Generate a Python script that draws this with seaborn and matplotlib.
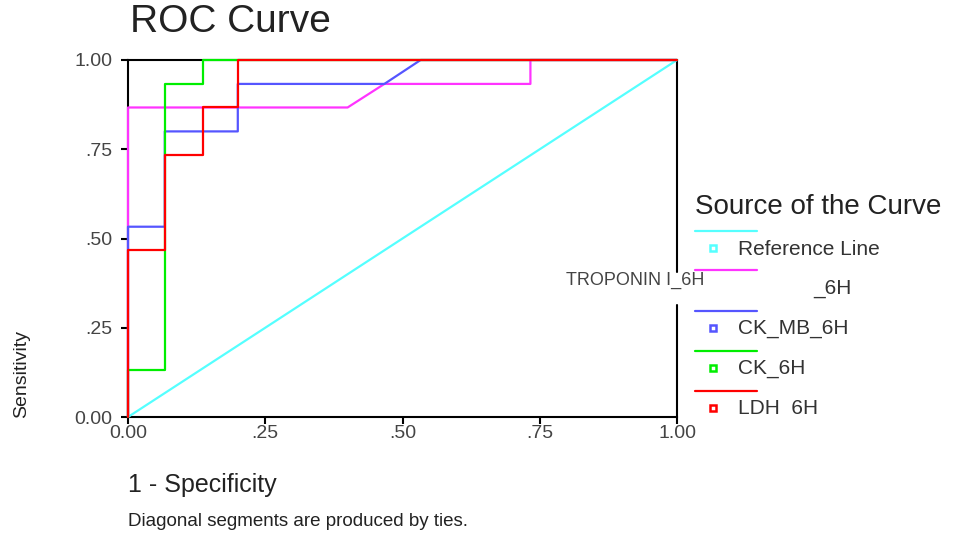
import numpy as np
import pandas as pd
import seaborn as sns
import matplotlib.pyplot as plt
from matplotlib.lines import Line2D

# ROC points (1 - specificity, sensitivity)
ref_fpr = [0.0, 1.0]
ref_tpr = [0.0, 1.0]
trop_fpr = [0.0, 0.0, 0.4, 0.467, 0.733, 0.733, 1.0]
trop_tpr = [0.0, 0.867, 0.867, 0.933, 0.933, 1.0, 1.0]
ckmb_fpr = [0.0, 0.0, 0.067, 0.067, 0.2, 0.2, 0.467, 0.533, 1.0]
ckmb_tpr = [0.0, 0.533, 0.533, 0.8, 0.8, 0.933, 0.933, 1.0, 1.0]
ck_fpr = [0.0, 0.0, 0.067, 0.067, 0.136, 0.136, 1.0]
ck_tpr = [0.0, 0.133, 0.133, 0.933, 0.933, 1.0, 1.0]
ldh_fpr = [0.0, 0.0, 0.067, 0.067, 0.136, 0.136, 0.2, 0.2, 1.0]
ldh_tpr = [0.0, 0.467, 0.467, 0.733, 0.733, 0.867, 0.867, 1.0, 1.0]

curve_names = ["Reference Line", "TROPONIN I_6H", "CK_MB_6H", "CK_6H", "LDH  6H"]
curve_colors = ["#55ffff", "#ff33ff", "#5555ff", "#00ee00", "#ff0000"]
tick_vals = [0.0, 0.25, 0.5, 0.75, 1.0]
x_tick_labels = ["0.00", ".25", ".50", ".75", "1.00"]
y_tick_labels = ["0.00", ".25", ".50", ".75", "1.00"]

curves = [(ref_fpr, ref_tpr), (trop_fpr, trop_tpr), (ckmb_fpr, ckmb_tpr),
          (ck_fpr, ck_tpr), (ldh_fpr, ldh_tpr)]
rows = []
for name, (fx, ty) in zip(curve_names, curves):
    for a, b in zip(fx, ty):
        rows.append((name, a, b))
df = pd.DataFrame(rows, columns=["curve", "fpr", "tpr"])

sns.set_style("white")
plt.rcParams['font.family'] = ['Liberation Sans', 'DejaVu Sans']

W, H = 971, 533
fig = plt.figure(figsize=(W / 100, H / 100), dpi=100)


def px(x, y):
    return x / W, 1 - y / H


ax = fig.add_axes([128 / W, 1 - 417 / H, (677 - 128) / W, (417 - 60) / H])
sns.lineplot(data=df, x="fpr", y="tpr", hue="curve", hue_order=curve_names,
             palette=curve_colors, sort=False, estimator=None, legend=False,
             linewidth=1.6, ax=ax, clip_on=False, zorder=3)

ax.set_xlim(0, 1)
ax.set_ylim(0, 1)
ax.set_xticks(tick_vals)
ax.set_xticklabels(x_tick_labels, fontsize=14, color="#444444")
ax.set_yticks(tick_vals)
ax.set_yticklabels(y_tick_labels, fontsize=14, color="#444444")
ax.tick_params(axis="both", direction="out", length=5, width=1.5, color="black",
               left=True, bottom=True)
ax.tick_params(axis="y", pad=6)
ax.tick_params(axis="x", pad=1)
ax.set_xlabel("")
ax.set_ylabel("")
for side in ["left", "bottom", "top"]:
    ax.spines[side].set_color("black")
    ax.spines[side].set_linewidth(1.5)
ax.spines["right"].set_visible(False)
# right frame is broken where the misplaced label sits
ax.plot([1, 1], [1, 0.406], color="black", lw=1.5, transform=ax.transAxes, clip_on=False)
ax.plot([1, 1], [0.314, 0], color="black", lw=1.5, transform=ax.transAxes, clip_on=False)

fig.text(*px(130, 22), "ROC Curve", fontsize=28, color="#222222", ha="left", va="center")
fig.text(*px(22, 418), "Sensitivity", fontsize=14, rotation=90, ha="center", va="bottom",
         color="#222222")
fig.text(*px(128, 485), "1 - Specificity", fontsize=18, ha="left", va="center", color="#222222")
fig.text(*px(128, 522), "Diagonal segments are produced by ties.", fontsize=13.5,
         ha="left", va="center", color="#222222")

# legend drawn by hand, as in the original layout
fig.text(*px(695, 207), "Source of the Curve", fontsize=20, ha="left", va="center",
         color="#222222")
line_ys = [231, 270, 311, 351, 391]
label_texts = ["Reference Line", "", "CK_MB_6H", "CK_6H", "LDH  6H"]
for c, ly, lab in zip(curve_colors, line_ys, label_texts):
    x0, y0 = px(695, ly)
    x1, _ = px(757, ly)
    fig.add_artist(Line2D([x0, x1], [y0, y0], color=c, lw=1.6, transform=fig.transFigure))
    if lab:
        mx, my = px(713, ly + 17)
        fig.add_artist(Line2D([mx], [my], marker="s", markersize=5, mfc="white", mec=c,
                              mew=1.8, transform=fig.transFigure))
        fig.text(*px(738, ly + 18), lab, fontsize=15, ha="left", va="center", color="#333333")
fig.text(*px(813, 288), "_6H", fontsize=15, ha="left", va="center", color="#333333")
fig.text(*px(566, 280), "TROPONIN I_6H", fontsize=13, ha="left", va="center", color="#444444")

fig.savefig("out.png", dpi=100)
